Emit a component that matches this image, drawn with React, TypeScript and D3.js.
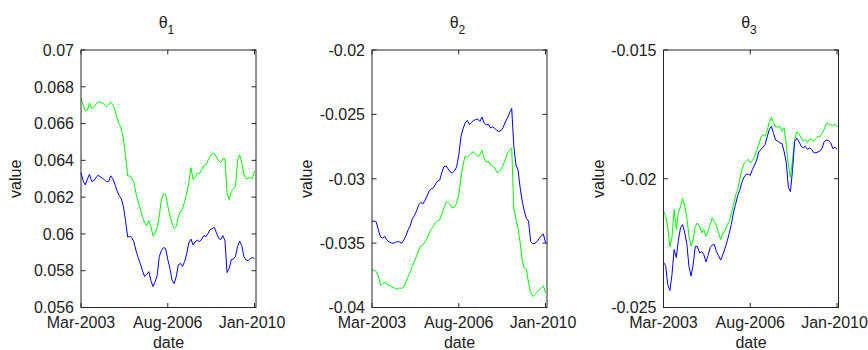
import React from 'react';
import * as d3 from 'd3';

// monthly observation dates, Mar-2003 .. Jan-2010
const dates: Date[] = d3.timeMonth.range(new Date(2003, 2, 1), new Date(2010, 1, 1));

const xTickDates = [new Date(2003, 2, 1), new Date(2006, 7, 1), new Date(2010, 0, 1)];
const xTickLabels = ['Mar-2003', 'Aug-2006', 'Jan-2010'];

const theta1Ticks = [0.056, 0.058, 0.06, 0.062, 0.064, 0.066, 0.068, 0.07];
const theta2Ticks = [-0.04, -0.035, -0.03, -0.025, -0.02];
const theta3Ticks = [-0.025, -0.02, -0.015];

const theta1Green = [
  0.06733, 0.06702, 0.06669, 0.06674, 0.06712, 0.0668, 0.06691, 0.06707, 0.06718, 0.06715,
  0.06712, 0.06704, 0.06691, 0.06702, 0.06718, 0.06702, 0.06677, 0.06631, 0.06596, 0.06571,
  0.06517, 0.06425, 0.06316, 0.06314, 0.06305, 0.06281, 0.06219, 0.06175, 0.06137, 0.06094,
  0.06061, 0.06045, 0.06072, 0.0604, 0.05988, 0.06007, 0.06034, 0.06099, 0.06186, 0.06219,
  0.06216, 0.06154, 0.06099, 0.06059, 0.06029, 0.0604, 0.06094, 0.06124, 0.06137, 0.06175,
  0.06224, 0.06278, 0.0636, 0.06295, 0.06311, 0.0633, 0.06327, 0.06349, 0.06371, 0.06376,
  0.06398, 0.06422, 0.06436, 0.06436, 0.06419, 0.06398, 0.06387, 0.06409, 0.06409, 0.06224,
  0.06186, 0.0623, 0.06246, 0.06257, 0.06398, 0.0643, 0.06387, 0.06322, 0.063, 0.06303,
  0.06308, 0.063, 0.06343,
];
const theta1Blue = [
  0.06333, 0.06289, 0.06267, 0.06298, 0.06324, 0.06286, 0.06289, 0.06305, 0.06319, 0.06311,
  0.06303, 0.06295, 0.06284, 0.06284, 0.06316, 0.063, 0.0627, 0.06235, 0.06208, 0.06192,
  0.06148, 0.06072, 0.05983, 0.05988, 0.0598, 0.05956, 0.05909, 0.05871, 0.05839, 0.05801,
  0.05768, 0.05779, 0.05795, 0.05747, 0.05714, 0.05741, 0.05774, 0.05877, 0.05909, 0.05926,
  0.0592, 0.05861, 0.05812, 0.05749, 0.0573, 0.05768, 0.05833, 0.05839, 0.05823, 0.0585,
  0.05893, 0.05953, 0.05972, 0.05939, 0.05958, 0.05966, 0.05958, 0.05972, 0.05991, 0.05985,
  0.06002, 0.06023, 0.06029, 0.06036, 0.06007, 0.05976, 0.05969, 0.05991, 0.05964, 0.0579,
  0.05812, 0.05861, 0.05863, 0.05877, 0.05931, 0.05961, 0.05937, 0.05877, 0.05858, 0.05855,
  0.05866, 0.05871, 0.05866,
];
const theta2Green = [
  -0.03708, -0.03712, -0.0372, -0.03755, -0.03825, -0.03817, -0.03805, -0.03817, -0.03825, -0.03838,
  -0.03844, -0.03852, -0.03856, -0.03848, -0.03852, -0.0384, -0.03801, -0.03762, -0.03724, -0.03681,
  -0.03638, -0.03603, -0.03553, -0.03522, -0.03514, -0.03491, -0.03464, -0.03421, -0.03394, -0.0337,
  -0.03339, -0.03325, -0.0332, -0.03273, -0.03223, -0.03182, -0.03182, -0.03203, -0.03227, -0.03219,
  -0.03192, -0.03126, -0.02994, -0.02893, -0.02823, -0.02835, -0.02815, -0.028, -0.0279, -0.02811,
  -0.02827, -0.02815, -0.0278, -0.02839, -0.02873, -0.02862, -0.02893, -0.02903, -0.02916, -0.02951,
  -0.02947, -0.02928, -0.02893, -0.0285, -0.02802, -0.02776, -0.02761, -0.03227, -0.03312, -0.03386,
  -0.03498, -0.03638, -0.03695, -0.03704, -0.03809, -0.03879, -0.03915, -0.03898, -0.03881, -0.03863,
  -0.03848, -0.03832, -0.03887,
];
const theta2Blue = [
  -0.03332, -0.03328, -0.03335, -0.03398, -0.03452, -0.0346, -0.03448, -0.03475, -0.03491, -0.03498,
  -0.03501, -0.03495, -0.03487, -0.03491, -0.03502, -0.03475, -0.03444, -0.03398, -0.03366, -0.03312,
  -0.03285, -0.0325, -0.03203, -0.03184, -0.03196, -0.03169, -0.03134, -0.03095, -0.03079, -0.03071,
  -0.0304, -0.03017, -0.03009, -0.02947, -0.02905, -0.02901, -0.02924, -0.02947, -0.02955, -0.02939,
  -0.02908, -0.02815, -0.02675, -0.02613, -0.02567, -0.02547, -0.02578, -0.02563, -0.02547, -0.0254,
  -0.02536, -0.02555, -0.0252, -0.02567, -0.02582, -0.02575, -0.02606, -0.02598, -0.02609, -0.02625,
  -0.02633, -0.02625, -0.02602, -0.02559, -0.02528, -0.02489, -0.02453, -0.02745, -0.02893, -0.02932,
  -0.03071, -0.0318, -0.0325, -0.03308, -0.03328, -0.03487, -0.03506, -0.03502, -0.03487, -0.03464,
  -0.03444, -0.03429, -0.03498,
];
const theta3Green = [
  -0.02127, -0.02143, -0.02189, -0.02265, -0.02228, -0.02119, -0.02197, -0.02132, -0.02107, -0.02077,
  -0.02107, -0.02152, -0.02223, -0.02262, -0.02236, -0.02184, -0.02172, -0.02184, -0.0221, -0.02197,
  -0.02223, -0.02204, -0.02178, -0.02152, -0.02166, -0.02182, -0.0221, -0.02236, -0.0221, -0.02205,
  -0.0218, -0.02166, -0.02135, -0.02104, -0.02065, -0.02042, -0.02005, -0.01964, -0.01941, -0.01933,
  -0.01925, -0.01939, -0.01929, -0.01914, -0.0189, -0.01869, -0.01838, -0.01828, -0.01835, -0.01813,
  -0.01782, -0.01762, -0.01782, -0.01799, -0.01799, -0.01797, -0.01815, -0.01802, -0.01867, -0.01952,
  -0.01995, -0.01925, -0.01848, -0.01818, -0.01824, -0.0184, -0.01854, -0.01848, -0.01859, -0.01846,
  -0.01846, -0.01854, -0.01844, -0.01835, -0.01836, -0.01822, -0.01807, -0.01785, -0.01787, -0.0179,
  -0.01795, -0.01787, -0.01799,
];
const theta3Blue = [
  -0.02325, -0.02337, -0.02411, -0.02434, -0.02372, -0.02275, -0.02306, -0.0224, -0.0219, -0.02178,
  -0.0221, -0.02255, -0.0234, -0.02378, -0.02333, -0.02262, -0.02263, -0.02288, -0.02283, -0.02294,
  -0.02323, -0.02298, -0.02267, -0.02257, -0.02255, -0.02283, -0.02298, -0.02316, -0.02296, -0.02271,
  -0.02244, -0.02213, -0.02178, -0.02133, -0.021, -0.02065, -0.02046, -0.02015, -0.01995, -0.01983,
  -0.01982, -0.01987, -0.01964, -0.01947, -0.01927, -0.01896, -0.01886, -0.01877, -0.01867, -0.01838,
  -0.01809, -0.01796, -0.01824, -0.0185, -0.01854, -0.01861, -0.01863, -0.01894, -0.01937, -0.02034,
  -0.0205, -0.01964, -0.01855, -0.01842, -0.01855, -0.01873, -0.0188, -0.01874, -0.01886, -0.01881,
  -0.01886, -0.01899, -0.01899, -0.01896, -0.01892, -0.01881, -0.01855, -0.0185, -0.01851, -0.0186,
  -0.01883, -0.01877, -0.01886,
];

const W = 868;
const H = 350;
const TOP = 50;
const BOTTOM = 307.5;
const PW = 175;
const FONT = '"Liberation Sans", Arial, sans-serif';

const panels = [
  { sub: '1', left: 81, green: theta1Green, blue: theta1Blue, yTicks: theta1Ticks },
  { sub: '2', left: 372, green: theta2Green, blue: theta2Blue, yTicks: theta2Ticks },
  { sub: '3', left: 663.5, green: theta3Green, blue: theta3Blue, yTicks: theta3Ticks },
];

const fmt = (v: number) => String(Math.round(v * 1e6) / 1e6);

function Panel({ p }: { p: (typeof panels)[number] }) {
  const x = d3
    .scaleTime()
    .domain([dates[0], new Date(2010, 0, 22)])
    .range([p.left, p.left + PW]);
  const yDom = d3.extent(p.yTicks) as [number, number];
  const y = d3.scaleLinear().domain(yDom).range([BOTTOM, TOP]);
  const line = d3
    .line<number>()
    .x((_, i) => x(dates[i]))
    .y((d) => y(d));
  const L = p.left;
  const R = p.left + PW;
  const tick = 4.5;
  return (
    <g>
      <rect x={L} y={TOP} width={PW} height={BOTTOM - TOP} fill="#fff" />
      <path d={line(p.green) || ''} fill="none" stroke="#00ff00" strokeWidth={1} />
      <path d={line(p.blue) || ''} fill="none" stroke="#0000ff" strokeWidth={1} />
      <rect x={L} y={TOP} width={PW} height={BOTTOM - TOP} fill="none" stroke="#262626" strokeWidth={1} />
      {p.yTicks.map((t) => (
        <g key={t}>
          <line x1={L} x2={L + tick} y1={y(t)} y2={y(t)} stroke="#262626" />
          <line x1={R} x2={R - tick} y1={y(t)} y2={y(t)} stroke="#262626" />
          <text
            x={L - 7}
            y={y(t)}
            dy="0.36em"
            textAnchor="end"
            fontFamily={FONT}
            fontSize={16}
            fill="#222"
          >
            {fmt(t)}
          </text>
        </g>
      ))}
      {xTickDates.map((d, i) => (
        <g key={i}>
          <line x1={x(d)} x2={x(d)} y1={BOTTOM} y2={BOTTOM - tick} stroke="#262626" />
          <line x1={x(d)} x2={x(d)} y1={TOP} y2={TOP + tick} stroke="#262626" />
          <text
            x={x(d)}
            dx={i === xTickDates.length - 1 ? -2.5 : 0}
            y={328}
            textAnchor="middle"
            fontFamily={FONT}
            fontSize={16}
            fill="#222"
          >
            {xTickLabels[i]}
          </text>
        </g>
      ))}
      <text x={(L + R) / 2} y={348} textAnchor="middle" fontFamily={FONT} fontSize={16} fill="#222">
        date
      </text>
      <text
        transform={`translate(${L - 60},${(TOP + BOTTOM) / 2}) rotate(-90)`}
        textAnchor="middle"
        fontFamily={FONT}
        fontSize={16}
        fill="#222"
      >
        value
      </text>
      <text x={(L + R) / 2 - 2} y={28} textAnchor="middle" fontFamily={FONT} fontSize={16} fill="#222">
        θ
        <tspan fontSize={12} dy={6}>
          {p.sub}
        </tspan>
      </text>
    </g>
  );
}

export default function App() {
  return (
    <svg
      width={W}
      height={H}
      viewBox={`0 0 ${W} ${H}`}
      style={{ position: 'absolute', left: 0, top: 0, background: '#fff' }}
    >
      <rect width={W} height={H} fill="#fff" />
      {panels.map((p) => (
        <Panel key={p.sub} p={p} />
      ))}
    </svg>
  );
}
